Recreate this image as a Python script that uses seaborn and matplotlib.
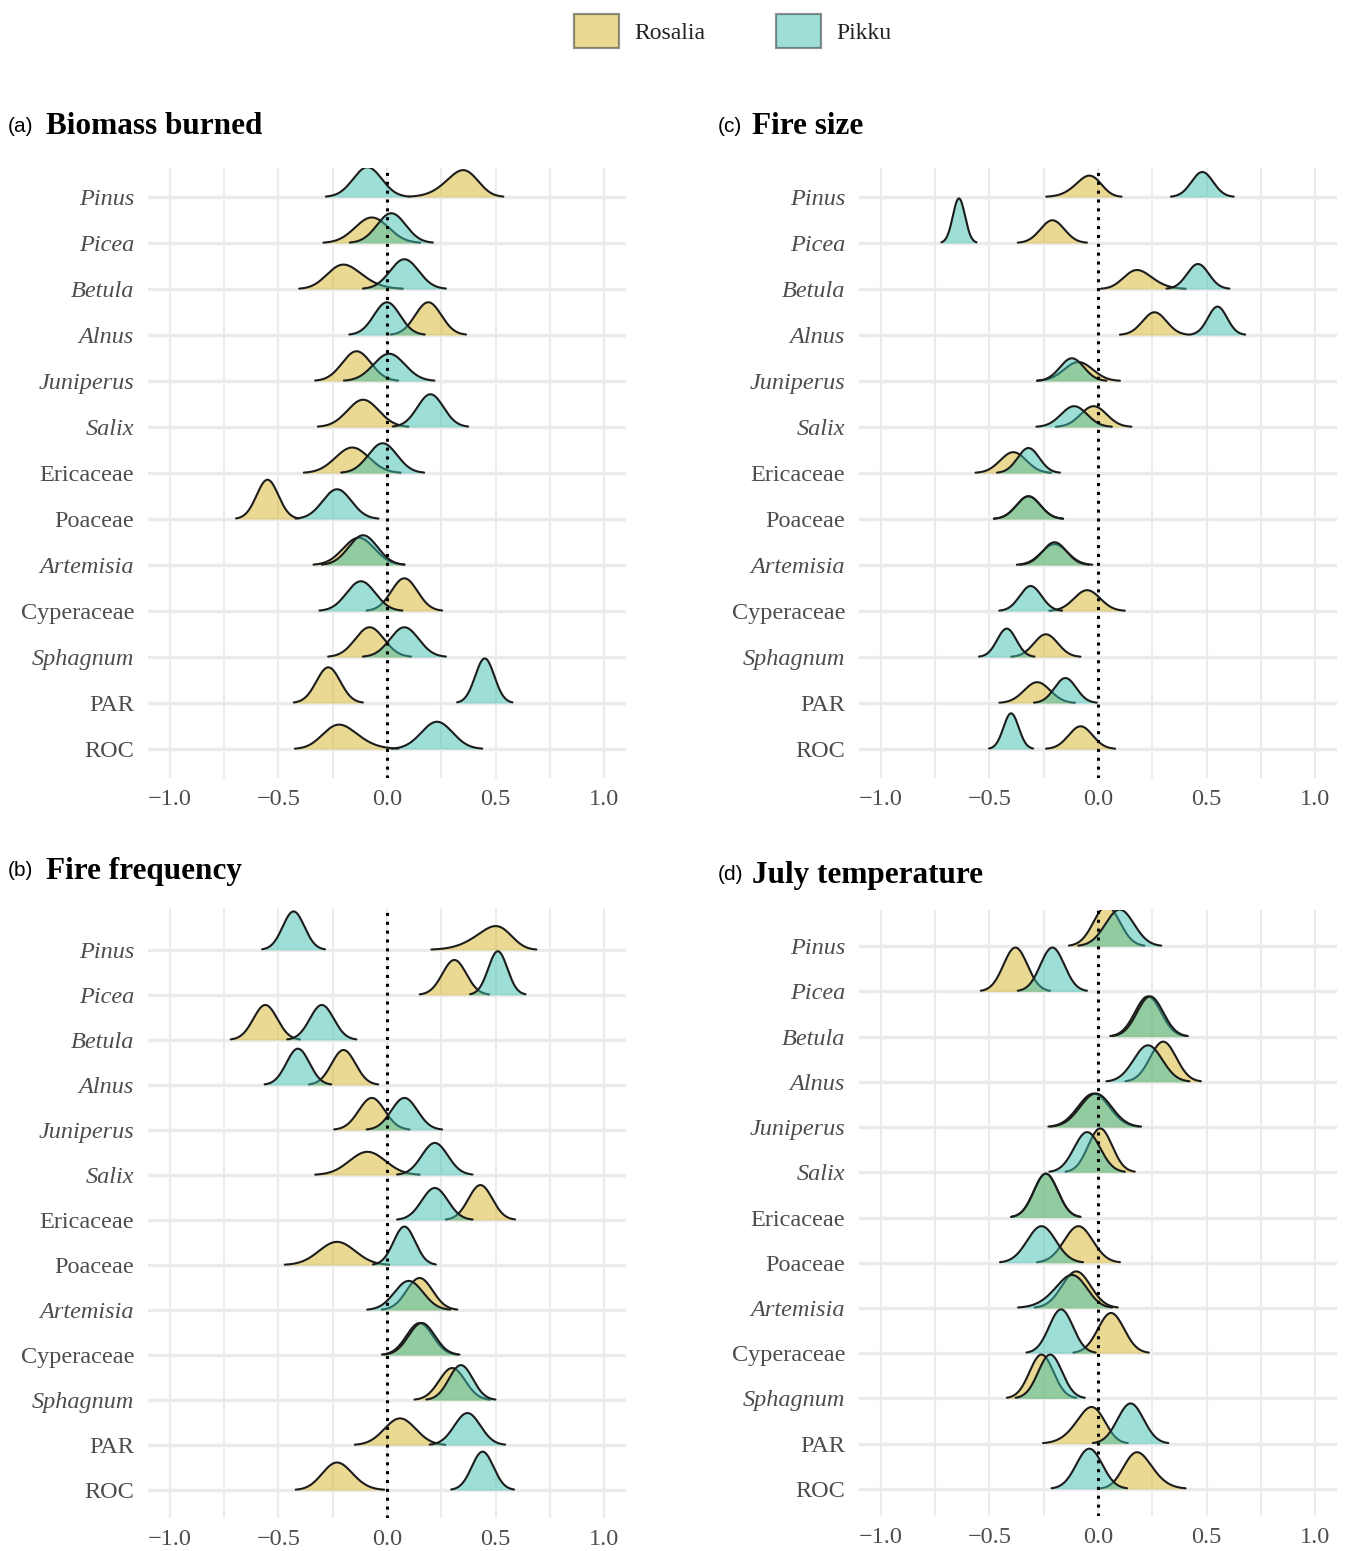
import math
import numpy as np
import matplotlib
matplotlib.use("Agg")
import matplotlib.pyplot as plt
from matplotlib.patches import Patch
import seaborn as sns

sns.set_theme(style="white")
plt.rcParams["font.family"] = ["Liberation Serif", "DejaVu Serif"]

# ---------------------------------------------------------------- data
taxa = ["Pinus", "Picea", "Betula", "Alnus", "Juniperus", "Salix", "Ericaceae",
        "Poaceae", "Artemisia", "Cyperaceae", "Sphagnum", "PAR", "ROC"]
genera = {"Pinus", "Picea", "Betula", "Alnus", "Juniperus", "Salix",
          "Artemisia", "Sphagnum"}
sites = ["Rosalia", "Pikku"]

# Each posterior is described by its mode (peak), spread and skew.
# (a) Biomass burned
biomass_rosalia_peak = [0.35, -0.07, -0.20, 0.19, -0.14, -0.11, -0.16, -0.55, -0.13, 0.08, -0.08, -0.27, -0.22]
biomass_rosalia_spread = [0.10, 0.077, 0.11, 0.060, 0.066, 0.072, 0.077, 0.050, 0.072, 0.060, 0.066, 0.055, 0.11]
biomass_rosalia_skew = [-1.5, 0, 1.5, 0, 0, 0, 0, 0, 0, 0, 0, 0, 1.5]
biomass_pikku_peak = [-0.09, 0.02, 0.08, 0.00, 0.01, 0.20, -0.02, -0.23, -0.11, -0.12, 0.08, 0.45, 0.23]
biomass_pikku_spread = [0.066, 0.066, 0.066, 0.060, 0.072, 0.060, 0.066, 0.066, 0.066, 0.066, 0.066, 0.044, 0.072]
biomass_pikku_skew = [0, 0, 0, 0, 0, 0, 0, 0, 0, 0, 0, 0, 0]

# (b) Fire frequency
freq_rosalia_peak = [0.50, 0.31, -0.56, -0.20, -0.07, -0.09, 0.43, -0.23, 0.15, 0.15, 0.30, 0.06, -0.23]
freq_rosalia_spread = [0.12, 0.055, 0.055, 0.055, 0.060, 0.083, 0.055, 0.083, 0.060, 0.060, 0.060, 0.072, 0.085]
freq_rosalia_skew = [-2.0, 0, 0, 0, 0, 0, 0, 0, 0, 0, 0, 0, 1.0]
freq_pikku_peak = [-0.43, 0.51, -0.30, -0.41, 0.08, 0.22, 0.22, 0.08, 0.10, 0.16, 0.34, 0.37, 0.44]
freq_pikku_spread = [0.050, 0.044, 0.055, 0.053, 0.060, 0.060, 0.060, 0.050, 0.066, 0.060, 0.055, 0.060, 0.050]
freq_pikku_skew = [0, 0, 0, 0, 0, 0, 0, 0, 0, 0, 0, 0, 0]

# (c) Fire size
size_rosalia_peak = [-0.04, -0.21, 0.18, 0.26, -0.09, -0.02, -0.39, -0.32, -0.20, -0.05, -0.24, -0.28, -0.08]
size_rosalia_spread = [0.080, 0.055, 0.090, 0.055, 0.066, 0.060, 0.060, 0.055, 0.060, 0.060, 0.055, 0.060, 0.055]
size_rosalia_skew = [-1.5, 0, 1.5, 0, 0, 0, 0, 0, 0, 0, 0, 0, 0]
size_pikku_peak = [0.48, -0.64, 0.46, 0.55, -0.12, -0.11, -0.32, -0.32, -0.20, -0.31, -0.42, -0.15, -0.40]
size_pikku_spread = [0.050, 0.028, 0.050, 0.044, 0.055, 0.060, 0.050, 0.055, 0.055, 0.050, 0.044, 0.050, 0.035]
size_pikku_skew = [0, 0, 0, 0, 0, 0, 0, 0, 0, 0, 0, 0, 0]

# (d) July temperature
temp_rosalia_peak = [0.04, -0.38, 0.23, 0.30, -0.02, 0.01, -0.24, -0.09, -0.10, 0.06, -0.26, -0.03, 0.18]
temp_rosalia_spread = [0.060, 0.055, 0.060, 0.060, 0.072, 0.055, 0.055, 0.066, 0.066, 0.060, 0.055, 0.090, 0.090]
temp_rosalia_skew = [0, 0, 0, 0, 0, 0, 0, 0, 0, 0, 0, -1.5, 1.5]
temp_pikku_peak = [0.10, -0.21, 0.24, 0.23, -0.01, -0.05, -0.24, -0.26, -0.12, -0.17, -0.22, 0.15, -0.04]
temp_pikku_spread = [0.066, 0.055, 0.060, 0.066, 0.072, 0.060, 0.055, 0.066, 0.10, 0.055, 0.055, 0.060, 0.060]
temp_pikku_skew = [0, 0, 0, 0, 0, 0, 0, 0, -1.5, 0, 0, 0, 0]

x_ticks = [-1.0, -0.5, 0.0, 0.5, 1.0]
x_minor = [-0.75, -0.25, 0.25, 0.75]

site_colors = {"Rosalia": "#D7B527", "Pikku": "#3DBFB1"}
FILL_ALPHA = 0.5
LINE_COLOR = "#1c1c1c"
GRID_COLOR = "#EBEBEB"
TEXT_GRAY = "#4D4D4D"

W, H = 1345, 1551
fig = plt.figure(figsize=(W / 100, H / 100), dpi=100)

_erf = np.vectorize(math.erf)


def px_rect(left, top, right, bottom):
    return [left / W, 1 - bottom / H, (right - left) / W, (bottom - top) / H]


def density_curve(peak, spread, skew):
    """Skew-normal shape placed so that its mode sits at `peak`."""
    z = np.linspace(-6, 6, 2401)
    pdf = 2.0 * np.exp(-0.5 * z ** 2) / np.sqrt(2 * np.pi) \
        * 0.5 * (1 + _erf(skew * z / np.sqrt(2)))
    pdf = pdf / spread
    x = z * spread
    x = x - x[np.argmax(pdf)] + peak
    keep = pdf >= 0.015 * pdf.max()
    return x[keep], pdf[keep]


def ridges(ax, series, ylim):
    n = len(taxa)
    curves = {}
    for j, (peaks, spreads, skews) in enumerate(series):
        for i in range(n):
            curves[(i, j)] = density_curve(peaks[i], spreads[i], skews[i])
    top = max(c[1].max() for c in curves.values())
    k = 0.97 / top
    for i in range(n):
        base = n - 1 - i
        for j, site in enumerate(sites):
            xs, pdf = curves[(i, j)]
            ys = base + k * pdf
            z = 3 + i * 4 + j * 2
            ax.fill_between(xs, base, ys, color=site_colors[site],
                            alpha=FILL_ALPHA, lw=0, zorder=z)
            ax.plot(xs, ys, color=LINE_COLOR, lw=1.5, zorder=z + 1,
                    solid_capstyle="round", solid_joinstyle="round")

    ax.set_xlim(-1.1, 1.1)
    ax.set_ylim(*ylim)
    ax.set_xticks(x_ticks)
    ax.set_xticks(x_minor, minor=True)
    ax.set_xticklabels([f"{t:.1f}".replace("-", "\u2212") for t in x_ticks])
    ax.set_yticks(range(n))
    ax.set_yticklabels(taxa[::-1])
    for lbl in ax.get_yticklabels():
        if lbl.get_text() in genera:
            lbl.set_fontstyle("italic")
    ax.tick_params(axis="both", which="both", length=0, labelsize=17.5,
                   labelcolor=TEXT_GRAY)
    ax.tick_params(axis="x", pad=8)
    ax.tick_params(axis="y", pad=10)
    ax.grid(False)
    for v in x_ticks + x_minor:
        ax.axvline(v, color=GRID_COLOR, lw=1.5, zorder=0)
    for r in range(n):
        ax.axhline(r, color=GRID_COLOR, lw=2.4, zorder=1)
    ax.axvline(0, color="black", lw=2.2, ls=(0, (1, 1.9)), zorder=200)
    for sp in ax.spines.values():
        sp.set_visible(False)
    ax.set_facecolor("white")


panels = [
    ("(a)", "Biomass burned", px_rect(148, 168, 626, 778), (-0.63, 12.63),
     [(biomass_rosalia_peak, biomass_rosalia_spread, biomass_rosalia_skew),
      (biomass_pikku_peak, biomass_pikku_spread, biomass_pikku_skew)],
     8, 46, 127),
    ("(b)", "Fire frequency", px_rect(148, 908, 626, 1518), (-0.62, 12.93),
     [(freq_rosalia_peak, freq_rosalia_spread, freq_rosalia_skew),
      (freq_pikku_peak, freq_pikku_spread, freq_pikku_skew)],
     8, 46, 871),
    ("(c)", "Fire size", px_rect(859, 168, 1337, 778), (-0.63, 12.63),
     [(size_rosalia_peak, size_rosalia_spread, size_rosalia_skew),
      (size_pikku_peak, size_pikku_spread, size_pikku_skew)],
     718, 752, 127),
    ("(d)", "July temperature", px_rect(859, 910, 1337, 1516), (-0.60, 12.80),
     [(temp_rosalia_peak, temp_rosalia_spread, temp_rosalia_skew),
      (temp_pikku_peak, temp_pikku_spread, temp_pikku_skew)],
     718, 752, 875),
]

for tag, title, rect, ylim, series, tag_x, title_x, title_y in panels:
    ax = fig.add_axes(rect)
    ridges(ax, series, ylim)
    fig.text(tag_x / W, 1 - title_y / H, tag, family="Liberation Sans",
             fontsize=15, va="center", ha="left", color="black")
    fig.text(title_x / W, 1 - title_y / H, title, family="Liberation Serif",
             fontweight="bold", fontsize=22.5, va="center", ha="left",
             color="black")

handles = [Patch(facecolor=site_colors[s], alpha=FILL_ALPHA, edgecolor="#2b2b2b",
                 linewidth=1.6) for s in sites]
leg = fig.legend(handles, sites, loc="center", bbox_to_anchor=(733 / W, 1 - 31 / H),
                 ncol=2, frameon=False, fontsize=17, handlelength=1.9,
                 handleheight=1.8, handletextpad=0.65, columnspacing=3.0)
for t in leg.get_texts():
    t.set_color("#222222")
for p in leg.get_patches():
    p.set_edgecolor((0.17, 0.17, 0.17, 1.0))

fig.savefig("out.png", dpi=100, facecolor="white")
